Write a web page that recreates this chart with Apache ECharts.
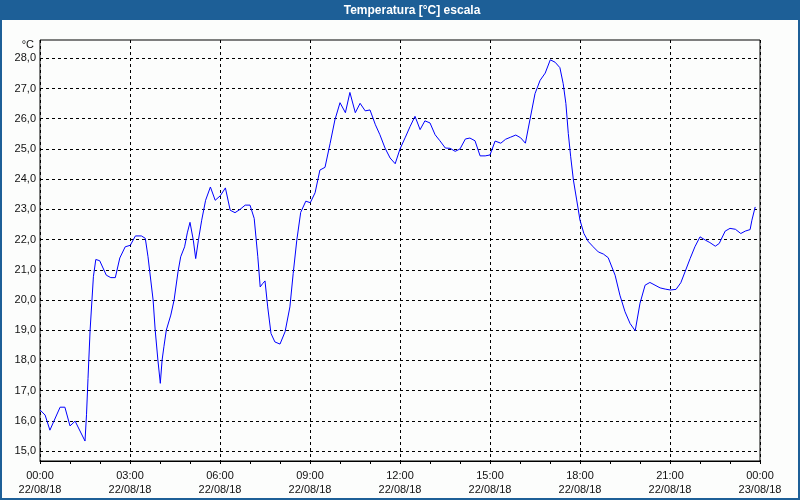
<!DOCTYPE html>
<html>
<head>
<meta charset="utf-8">
<script src="https://cdn.jsdelivr.net/npm/echarts@6/dist/echarts.min.js"></script>
<style>
html,body{margin:0;padding:0;background:#fcfdfc;}
#chart{width:800px;height:500px;}
</style>
</head>
<body>
<div id="chart"></div>
<script>
var titleText = 'Temperatura [°C] escala';
var unitLabel = '°C';
var dateLabels = ['22/08/18', '23/08/18'];
var yTickValues = [15,16,17,18,19,20,21,22,23,24,25,26,27,28];
var hours = [
0.0,0.17,0.33,0.67,0.83,1.0,1.17,1.5,1.55,1.6,1.67,1.78,1.86,1.99,
2.21,2.36,2.51,2.66,2.84,3.01,3.18,3.38,3.51,3.6,3.77,3.84,3.93,4.01,
4.07,4.13,4.21,4.36,4.47,4.6,4.69,4.82,4.91,5.0,5.11,5.19,5.28,5.39,
5.52,5.68,5.84,6.01,6.18,6.34,6.5,6.67,6.84,7.0,7.14,7.26,7.34,7.42,
7.5,7.59,7.7,7.83,8.0,8.17,8.33,8.44,8.56,8.69,8.86,9.01,9.17,9.33,
9.5,9.67,9.83,10.0,10.18,10.33,10.51,10.67,10.84,11.0,11.18,11.33,11.5,11.67,
11.84,12.0,12.18,12.34,12.5,12.67,12.83,13.0,13.17,13.33,13.51,13.67,13.84,14.0,
14.18,14.33,14.5,14.67,14.84,15.0,15.17,15.36,15.52,15.69,15.86,16.02,16.18,16.33,
16.5,16.67,16.84,17.01,17.17,17.33,17.44,17.53,17.61,17.69,17.78,17.89,18.0,18.13,
18.28,18.44,18.61,18.78,18.94,19.17,19.33,19.5,19.67,19.84,20.0,20.17,20.33,20.5,
20.67,20.84,21.01,21.2,21.36,21.5,21.67,21.83,22.0,22.18,22.33,22.51,22.64,22.84,
23.0,23.18,23.36,23.51,23.67,23.73,23.84
];
var temps = [
16.36,16.19,15.69,16.45,16.45,15.83,15.99,15.33,16.2,17.4,19.0,20.77,21.34,21.30,
20.82,20.74,20.74,21.39,21.76,21.81,22.12,22.12,22.04,21.43,20.0,19.0,18.01,17.24,
18.01,18.45,19.0,19.5,20.0,20.93,21.43,21.76,22.22,22.57,21.98,21.37,21.98,22.64,
23.30,23.74,23.30,23.45,23.71,22.97,22.89,23.0,23.14,23.14,22.70,21.43,20.43,20.54,
20.63,19.77,18.89,18.61,18.54,18.95,19.77,20.88,21.98,22.9,23.27,23.22,23.55,24.3,
24.39,25.18,25.96,26.53,26.2,26.87,26.2,26.51,26.26,26.29,25.80,25.47,25.03,24.70,
24.51,25.0,25.39,25.75,26.08,25.64,25.93,25.86,25.47,25.27,25.03,25.02,24.92,25.0,
25.33,25.36,25.27,24.77,24.77,24.8,25.26,25.19,25.32,25.39,25.46,25.37,25.19,25.96,
26.83,27.27,27.51,27.95,27.87,27.69,27.16,26.5,25.51,24.74,23.97,23.31,22.64,22.2,
21.93,21.76,21.59,21.52,21.40,20.82,20.16,19.61,19.22,18.98,19.89,20.49,20.58,20.49,
20.40,20.36,20.33,20.35,20.57,20.93,21.37,21.76,22.09,21.98,21.90,21.78,21.87,22.28,
22.37,22.34,22.2,22.28,22.33,22.64,23.08
];

var seriesData = hours.map(function (h, i) { return [h, temps[i]]; });
var chart = echarts.init(document.getElementById('chart'), null, {renderer: 'canvas'});
var font = 'Liberation Sans, Arial, sans-serif';
function pad(n){ return (n < 10 ? '0' : '') + n; }

chart.setOption({
  animation: false,
  backgroundColor: '#fcfdfc',
  textStyle: {fontFamily: font},
  grid: {left: 40, right: 40, top: 40, bottom: 39, show: true, borderColor: '#000', borderWidth: 1, backgroundColor: 'transparent'},
  xAxis: {
    type: 'value', min: 0, max: 24, interval: 3,
    axisLine: {show: true, lineStyle: {color: '#000', width: 1}},
    axisTick: {show: true, length: 3, lineStyle: {color: '#000'}},
    minorTick: {show: true, splitNumber: 3, length: 3, lineStyle: {color: '#000'}},
    splitLine: {show: true, lineStyle: {color: '#000', type: [3, 3], width: 1}},
    axisLabel: {
      color: '#111', fontSize: 11, fontFamily: font, margin: 8, lineHeight: 14,
      formatter: function (v) {
        var h = Math.round(v);
        var d = h >= 24 ? dateLabels[1] : dateLabels[0];
        return pad(h % 24) + ':00\n' + d;
      }
    }
  },
  yAxis: {
    type: 'value', min: 14.669, max: 28.606,
    axisLine: {show: false},
    axisTick: {show: false, customValues: yTickValues},
    splitLine: {show: true, lineStyle: {color: '#000', type: [3, 3], width: 1}},
    axisLabel: {
      customValues: yTickValues, color: '#111', fontSize: 11, fontFamily: font, margin: 4,
      formatter: function (v) { return v.toFixed(1).replace('.', ','); }
    }
  },
  graphic: [
    {type: 'rect', shape: {x: 0, y: 0, width: 800, height: 20}, style: {fill: '#1d5f97'}, z: 10},
    {type: 'rect', shape: {x: 1, y: 1, width: 798, height: 498}, style: {fill: null, stroke: '#1d5f97', lineWidth: 2}, z: 10},
    {type: 'text', x: 412, y: 11, style: {text: titleText, fill: '#fff', font: 'bold 12px ' + font, textAlign: 'center', textVerticalAlign: 'middle'}, z: 11},
    {type: 'text', x: 34, y: 45, style: {text: unitLabel, fill: '#111', font: '11px ' + font, textAlign: 'right', textVerticalAlign: 'middle'}, z: 11}
  ],
  series: [{
    type: 'line', data: seriesData, showSymbol: false, symbol: 'none',
    lineStyle: {color: '#0000ff', width: 1}, clip: true
  }]
});
</script>
</body>
</html>
